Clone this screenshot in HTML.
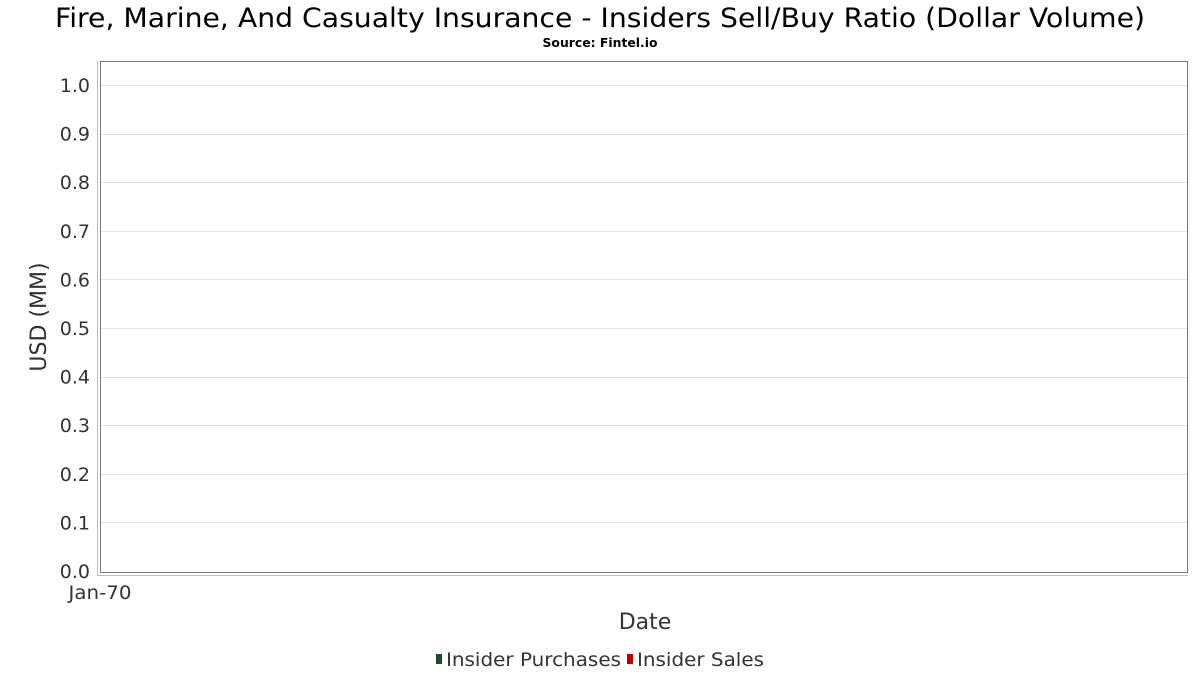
<!DOCTYPE html>
<html><head><meta charset="utf-8"><style>
body{margin:0;background:#fff;width:1200px;height:675px;overflow:hidden;font-family:"DejaVu Sans","Liberation Sans",sans-serif}
</style></head><body>
<svg width="1200" height="675" xmlns="http://www.w3.org/2000/svg" font-family="DejaVu Sans, Liberation Sans, sans-serif">
<text x="600" y="27" text-anchor="middle" font-size="27" textLength="1090" lengthAdjust="spacingAndGlyphs" fill="#000">Fire, Marine, And Casualty Insurance - Insiders Sell/Buy Ratio (Dollar Volume)</text>
<text x="600" y="47" text-anchor="middle" font-size="12" font-weight="bold" textLength="115" lengthAdjust="spacingAndGlyphs" fill="#000">Source: Fintel.io</text>
<g id="grid"></g>
<rect x="100.5" y="61.5" width="1087" height="511" fill="none" stroke="#777"/>
<line x1="97.5" y1="61" x2="97.5" y2="576" stroke="#bbb"/>
<line x1="97" y1="575.5" x2="1188" y2="575.5" stroke="#bbb"/>
<g id="yticks"></g>
<text x="100" y="599" text-anchor="middle" font-size="19" textLength="63" lengthAdjust="spacingAndGlyphs" fill="#333">Jan-70</text>
<text x="645" y="629" text-anchor="middle" font-size="22" fill="#333">Date</text>
<text transform="translate(46,317) rotate(-90)" text-anchor="middle" font-size="22" fill="#333">USD (MM)</text>
<g>
<rect x="436" y="654" width="6" height="10" fill="#1a4d2e"/>
<text x="446" y="666" font-size="19" textLength="175" lengthAdjust="spacingAndGlyphs" fill="#333">Insider Purchases</text>
<rect x="627" y="654" width="6" height="10" fill="#c00000"/>
<text x="637" y="666" font-size="19" textLength="127" lengthAdjust="spacingAndGlyphs" fill="#333">Insider Sales</text>
</g>
</svg>
<script>
const yTicks=[0,0.1,0.2,0.3,0.4,0.5,0.6,0.7,0.8,0.9,1.0];
const yTickLabels=["0.0","0.1","0.2","0.3","0.4","0.5","0.6","0.7","0.8","0.9","1.0"];
const purchases=[];
const sales=[];
function yScale(v){return 571-v*486;}
const ns="http://www.w3.org/2000/svg";
const g=document.getElementById('grid'),yt=document.getElementById('yticks');
yTicks.forEach((v,i)=>{
 const y=Math.round(yScale(v))+0.5;
 if(v>0){const l=document.createElementNS(ns,'line');
 l.setAttribute('x1',101);l.setAttribute('x2',1187);l.setAttribute('y1',y);l.setAttribute('y2',y);
 l.setAttribute('stroke','#e3e3e3');
 
 
 g.appendChild(l);}
 const t=document.createElementNS(ns,'text');
 t.setAttribute('x',90);t.setAttribute('y',yScale(v)+7);t.setAttribute('text-anchor','end');
 t.setAttribute('font-size','19');t.setAttribute('fill','#333');t.textContent=yTickLabels[i];
 
 
 yt.appendChild(t);
});
</script>
</body></html>
